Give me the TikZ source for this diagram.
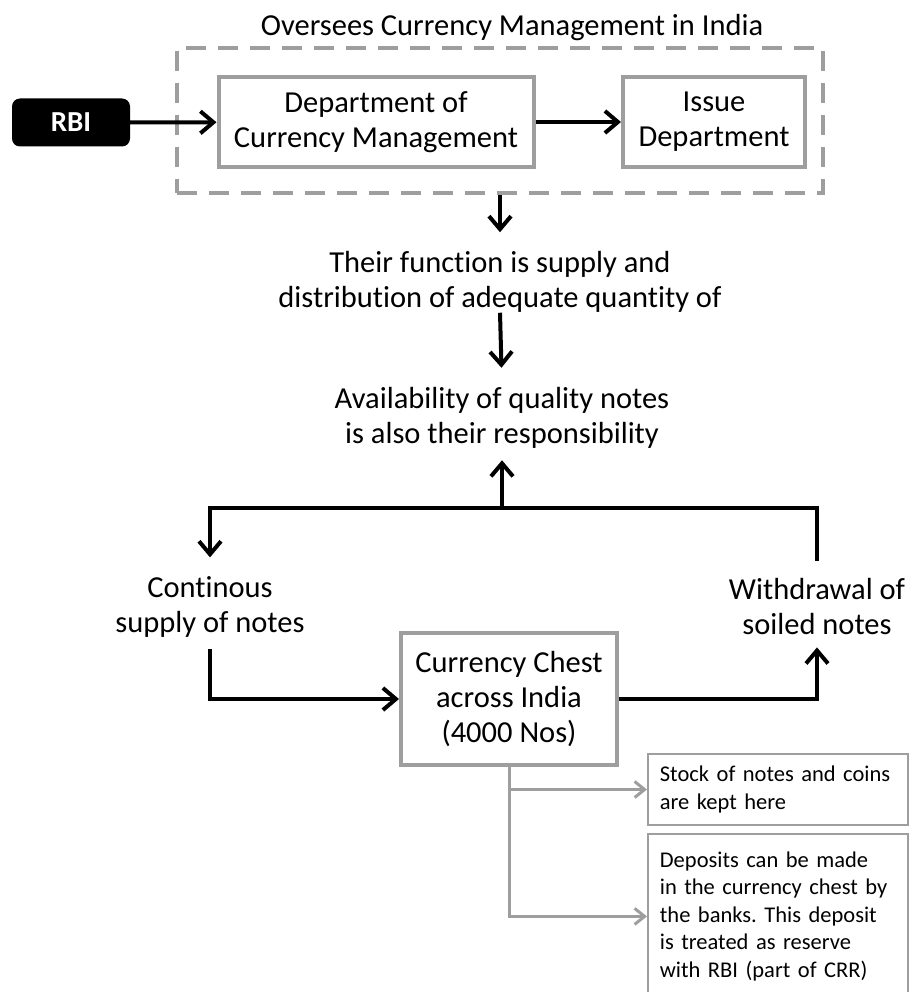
\documentclass[tikz,border=0pt]{standalone}
\usepackage{fontspec}
\setmainfont{Carlito}[Ligatures=NoCommon]
\usepackage{xcolor}
\usetikzlibrary{arrows.meta}
\definecolor{boxgray}{RGB}{158,158,158}

\begin{document}
\frenchspacing
\begin{tikzpicture}[x=1pt,y=-1pt,
    every node/.style={font=\fontsize{30.5}{35}\selectfont},
    bigbox/.style={draw=boxgray,line width=4pt,minimum height=90pt,align=center,inner sep=0pt},
    txt/.style={align=center,inner sep=0pt},
    note/.style={draw=boxgray,line width=1.8pt,align=left,text width=236pt,inner xsep=12pt,inner ysep=6pt,font=\fontsize{22.5}{27.5}\selectfont},
    blackarrow/.style={line width=4pt,-{Straight Barb[length=13pt,width=22pt]}},
    grayarrow/.style={draw=boxgray,line width=3pt,-{Straight Barb[length=10pt,width=16pt]}}]
    \useasboundingbox (0,0) rectangle (909,992);

    \node (title) at (512,28) {Oversees Currency Management in India};
    \node[draw=boxgray,line width=4pt,dash pattern=on 20pt off 12pt,minimum width=646pt,minimum height=145pt] (group) at (500,120.5) {};

    \node[fill=black,rounded corners=8pt,minimum width=118pt,minimum height=48pt,text=white,font=\fontsize{29}{35}\selectfont\bfseries] (rbi) at (71,122.5) {RBI};
    \node[bigbox,minimum width=315pt] (dcm) at (376,122) {Department of\\Currency Management};
    \node[bigbox,minimum width=182pt] (issue) at (714,122) {Issue\\Department};

    \draw[blackarrow] (rbi) -- (dcm);
    \draw[blackarrow] (dcm) -- (issue);

    \node[txt] (func) at (500,282) {Their function is supply and\\distribution of adequate quantity of};
    \node[txt] (avail) at (502,417.5) {Availability of quality notes\\is also their responsibility};
    \draw[blackarrow,shorten >=19pt] (group.south) -- (func.north);
    \draw[blackarrow,shorten >=19pt] (func.south) -- (avail.north);

    \node[txt] (supply) at (210,607) {Continous\\supply of notes};
    \node[txt] (withdraw) at (817,607) {Withdrawal of\\soiled notes};

    \coordinate (top) at (502,508);
    \coordinate (topleft) at (210,508);
    \coordinate (topright) at (817,508);
    \draw[blackarrow,shorten >=12pt] (top) -- (avail.south);
    \draw[blackarrow,shorten <=18pt,shorten >=19pt] (withdraw.north) -- (topright) -- (topleft) -- (supply.north);

    \node[bigbox,minimum width=216pt,minimum height=132pt] (chest) at (509,699) {Currency Chest\\across India\\(4000 Nos)};
    \draw[blackarrow,shorten <=11pt] (supply.south) |- (chest.west);
    \draw[blackarrow,shorten >=12pt] (chest.east) -| (withdraw.south);

    \node[note,anchor=west,minimum height=71pt] (stock) at (647,789.5) {Stock of notes and coins\\are kept here};
    \node[note,anchor=north west,minimum height=165pt] (deposit) at (647,833) {Deposits can be made\\in the currency chest by\\the banks. This deposit\\is treated as reserve\\with RBI (part of CRR)};
    \draw[grayarrow] (chest.south) |- (stock.west);
    \draw[grayarrow] (chest.south) |- (deposit.west);
\end{tikzpicture}
\end{document}
